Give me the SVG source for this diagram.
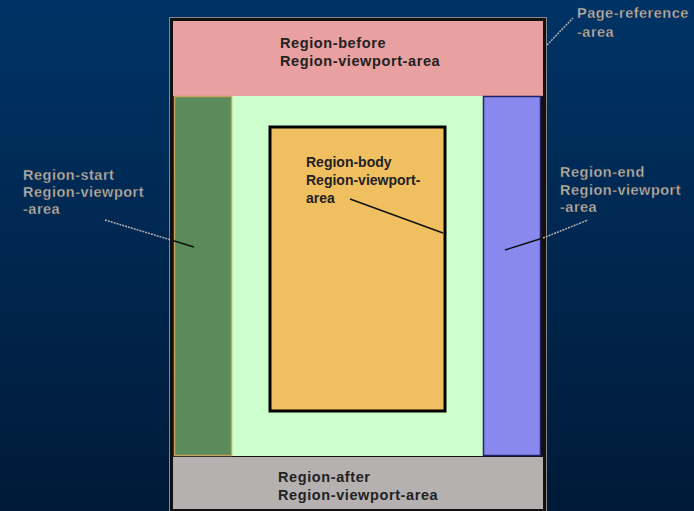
<svg xmlns="http://www.w3.org/2000/svg" width="694" height="511" viewBox="0 0 694 511">
<defs>
<linearGradient id="bg" x1="0" y1="0" x2="0" y2="1">
<stop offset="0" stop-color="#003366"/>
<stop offset="1" stop-color="#001a38"/>
</linearGradient>
<style>
.in{font-family:"Liberation Sans",Arial,sans-serif;font-size:14px;font-weight:bold;fill:#222}
.wide{font-size:14.5px;letter-spacing:0.6px}
.out{font-family:"Liberation Sans",Arial,sans-serif;font-size:14.5px;font-weight:bold;letter-spacing:0.5px;fill:#b8b8b8;stroke:#333;stroke-width:0.4}
.lead{stroke:#111;stroke-width:1.5;fill:none}
.leadw{stroke:#b0b0b0;stroke-width:1.5;fill:none;stroke-dasharray:2 1}
</style>
</defs>
<rect width="694" height="511" fill="url(#bg)"/>
<g id="page-reference-area">
<rect x="169.5" y="17.5" width="377" height="497" fill="#111" stroke="#888" stroke-width="1"/>
</g>
<g id="region-before">
<rect x="173" y="21" width="370" height="75" fill="#e8a0a0"/>
<text class="in wide" x="280" y="48">Region-before</text>
<text class="in wide" x="280" y="66">Region-viewport-area</text>
</g>
<g id="center">
<rect x="232" y="96" width="251" height="360" fill="#ccffcc"/>
</g>
<g id="region-start">
<rect x="174.5" y="96.5" width="57" height="359" fill="#5b8a5b" stroke="#c8a060" stroke-width="1.5"/>
</g>
<g id="region-end">
<rect x="483.5" y="96.5" width="57" height="359" fill="#8888ee" stroke="#222266" stroke-width="1.5"/>
</g>
<g id="region-body">
<rect x="270" y="127" width="175" height="284" fill="#f0c060" stroke="#000" stroke-width="3"/>
<text class="in" x="306" y="167">Region-body</text>
<text class="in" x="306" y="185">Region-viewport-</text>
<text class="in" x="306" y="203">area</text>
</g>
<g id="region-after">
<rect x="173" y="457" width="370" height="52" fill="#b5b1b1"/>
<text class="in wide" x="278" y="482">Region-after</text>
<text class="in wide" x="278" y="500">Region-viewport-area</text>
</g>
<g id="labels">
<text class="out" x="577" y="18">Page-reference</text>
<text class="out" x="577" y="37">-area</text>
<text class="out" x="23" y="180">Region-start</text>
<text class="out" x="23" y="197">Region-viewport</text>
<text class="out" x="23" y="214">-area</text>
<text class="out" x="560" y="177">Region-end</text>
<text class="out" x="560" y="195">Region-viewport</text>
<text class="out" x="560" y="212">-area</text>
</g>
<g id="connectors">
<line class="leadw" x1="547" y1="45" x2="573" y2="18"/>
<line class="leadw" x1="105" y1="220" x2="171" y2="240"/>
<line class="lead" x1="171" y1="240" x2="194" y2="247"/>
<line class="lead" x1="505" y1="250" x2="543" y2="238"/>
<line class="leadw" x1="543" y1="238" x2="588" y2="220"/>
<line class="lead" x1="350" y1="199" x2="443" y2="233"/>
</g>
</svg>
